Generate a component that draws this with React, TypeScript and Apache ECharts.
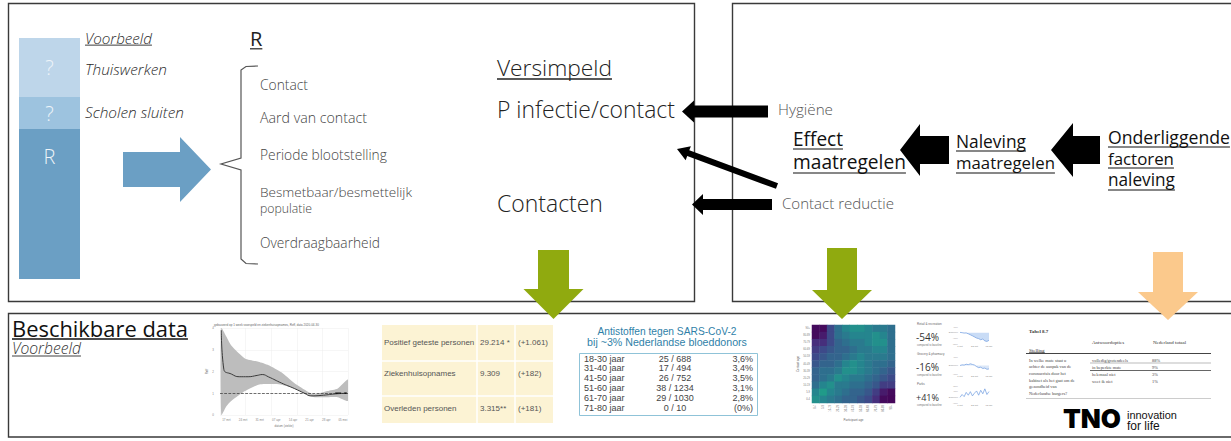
import React, { useEffect, useRef } from 'react';
import * as echarts from 'echarts';

const SANS = '"Open Sans", "Noto Sans", sans-serif';
const ARIAL = '"Liberation Sans", Arial, sans-serif';
const SERIF = '"Liberation Serif", serif';

// ---- stacked R bar (top-left) ----
const rBarLabels = ['R', '?', '?'];
const rBarValues = [150, 32, 59];
const rBarColors = ['#6b9fc4', '#9dc3df', '#bed6ea'];
const rExamples = ['Thuiswerken', 'Scholen sluiten'];
const rFactors = ['Contact', 'Aard van contact', 'Periode blootstelling', 'Besmetbaar/besmettelijk', 'populatie', 'Overdraagbaarheid'];

// ---- Reff thumbnail ----
const reffDates = ['17 mrt', '24 mrt', '31 mrt', '07 apr', '14 apr', '21 apr', '28 apr', '05 mei'];
const reffDateX = [5, 18, 31, 44, 57, 70, 83, 96];
const reffLineX = [1, 3, 9, 15, 22, 29, 33, 38, 48, 58, 66, 71, 79, 90, 99];
const reffLineY = [3.9, 2.1, 1.88, 1.76, 1.76, 1.82, 1.86, 1.75, 1.47, 1.22, 1.0, 0.88, 0.9, 0.97, 1.0];
const reffBandX = [1, 5, 9, 19.5, 30, 38, 48, 58, 69, 74, 84, 92, 100];
const reffBandUpper = [4.0, 3.6, 3.18, 2.6, 2.45, 2.29, 1.96, 1.47, 1.06, 0.95, 1.1, 1.22, 1.63];
const reffBandLower = [0.0, 0.4, 0.65, 1.1, 1.39, 1.42, 1.39, 1.22, 0.9, 0.82, 0.82, 0.82, 0.65];

// ---- RIVM table ----
const rivmRows = ['Positief geteste personen', 'Ziekenhuisopnames', 'Overleden personen'];
const rivmTotals = ['29.214 *', '9.309', '3.315**'];
const rivmDelta = ['(+1.061)', '(+182)', '(+181)'];

// ---- Sanquin donors ----
const donorTitle = ['Antistoffen tegen SARS-CoV-2', 'bij ~3% Nederlandse bloeddonors'];
const donorAges = ['18-30 jaar', '31-40 jaar', '41-50 jaar', '51-60 jaar', '61-70 jaar', '71-80 jaar'];
const donorCounts = ['25 / 688', '17 / 494', '26 / 752', '38 / 1234', '29 / 1030', '0 / 10'];
const donorPct = ['3,6%', '3,4%', '3,5%', '3,1%', '2,8%', '(0%)'];

// ---- contact matrix heatmap ----
const heatAges = ['0-4', '5-9', '10-19', '20-29', '30-39', '40-49', '50-59', '60-69', '70-79', '80-89', '90+'];
const heatRows = [
  [0.3, 0.3, 2.5, 4, 5, 5.5, 5.5, 5, 4.5, 4.5, 4],
  [0.3, 0.8, 2.5, 4, 4.5, 5, 5, 5, 5.5, 5, 4],
  [1.5, 1.5, 2.5, 3.5, 4, 4.5, 4.5, 5, 5.5, 5.5, 4],
  [2, 2.5, 3, 3.5, 3.5, 4, 4.5, 4.5, 5, 5, 4],
  [2.5, 3, 3.5, 3.5, 4, 4.5, 5, 4.5, 4.5, 4.5, 4],
  [3, 3.5, 3.5, 4, 5, 5.5, 5, 4.5, 4, 4, 3.5],
  [3.5, 4, 4, 4.5, 5.5, 5.5, 5, 4.5, 4, 3.5, 3],
  [3.5, 4, 4.5, 5.5, 5, 4.5, 4.5, 4, 3.5, 3, 2.5],
  [4, 5, 5.5, 4.5, 4.5, 4, 4, 3.5, 3, 2, 2],
  [5, 6, 5, 4.5, 4, 3.5, 3.5, 3, 2, 0.8, 0.3],
  [5.5, 5, 4.5, 4, 3.5, 3.5, 3, 2.5, 1.5, 0.3, 0.2],
];
const viridis = ['#440154', '#482878', '#3e4989', '#31688e', '#26828e', '#1f9e89', '#35b779', '#6ece58', '#b5de2b', '#fde725'];

// ---- mobility ----
const mobilityTitles = ['Retail & recreation', 'Grocery & pharmacy', 'Parks'];
const mobilityValues = ['-54%', '-16%', '+41%'];
const mobilityDays = ['1 mrt', '4 mrt', '7 mrt', '10 mrt', '13 mrt', '16 mrt', '19 mrt', '22 mrt', '25 mrt', '28 mrt', '31 mrt', '3 apr', '6 apr', '9 apr', '12 apr'];
const mobilityRetail = [2, 0, -3, -2, -8, -15, -22, -30, -38, -42, -50, -45, -58, -62, -54];
const mobilityGrocery = [0, 3, 2, 6, 4, 8, 5, 2, -5, -10, -8, -14, -12, -18, -16];
const mobilityParks = [0, 20, 5, 35, 15, 40, 10, 30, 45, 15, 50, 25, 60, 20, 41];

// ---- survey table ----
const surveyQuestion = ['In welke mate staat u', 'achter de aanpak van de', 'coronacrisis door het', 'kabinet als het gaat om de', 'gezondheid van', 'Nederlandse burgers?'];
const surveyOptions = ['volledig/grotendeels', 'in beperkte mate', 'helemaal niet', 'weet ik niet'];
const surveyPct = ['88%', '9%', '3%', '1%'];

let ctx: CanvasRenderingContext2D | null = null;
function measureW(text: string, font: string) {
  if (!ctx) ctx = document.createElement('canvas').getContext('2d');
  ctx!.font = font;
  return ctx!.measureText(text).width;
}

type TOpt = {
  w?: number; size?: number; family?: string; weight?: string | number; italic?: boolean;
  fill?: string; underline?: boolean; align?: 'left' | 'center' | 'right'; mid?: boolean; ul?: number;
};

function txt(text: string, x: number, y: number, o: TOpt = {}): any[] {
  const family = o.family ?? SANS;
  const weight = o.weight ?? 'normal';
  const style = o.italic ? 'italic' : 'normal';
  let size = o.size ?? 12;
  if (o.w) {
    const m = measureW(text, `${style} ${weight} 100px ${family}`);
    size = (100 * o.w) / m;
  }
  const width = measureW(text, `${style} ${weight} ${size}px ${family}`);
  const align = o.align ?? 'left';
  const cy = o.mid ? y : y - size * 0.36;
  const fill = o.fill ?? '#222';
  const els: any[] = [{
    type: 'text', x, y: cy, z: 10, silent: true,
    style: { text, fontSize: size, fontFamily: family, fontWeight: weight, fontStyle: style, fill, align, verticalAlign: 'middle' },
  }];
  if (o.underline) {
    const x0 = align === 'center' ? x - width / 2 : align === 'right' ? x - width : x;
    const uy = y + (o.ul ?? size * 0.14);
    els.push({ type: 'line', z: 10, silent: true, shape: { x1: x0, y1: uy, x2: x0 + width, y2: uy }, style: { stroke: fill, lineWidth: Math.max(0.6, size * 0.06) } });
  }
  return els;
}

function hArrow(tipX: number, midY: number, headBaseX: number, headHalf: number, shaftHalf: number, tailX: number, fill: string) {
  return {
    type: 'polygon', z: 6, silent: true,
    shape: { points: [[tailX, midY - shaftHalf], [headBaseX, midY - shaftHalf], [headBaseX, midY - headHalf], [tipX, midY], [headBaseX, midY + headHalf], [headBaseX, midY + shaftHalf], [tailX, midY + shaftHalf]] },
    style: { fill },
  };
}
function vArrow(tipY: number, midX: number, headBaseY: number, headHalf: number, shaftHalf: number, topY: number, fill: string) {
  return {
    type: 'polygon', z: 6, silent: true,
    shape: { points: [[midX - shaftHalf, topY], [midX - shaftHalf, headBaseY], [midX - headHalf, headBaseY], [midX, tipY], [midX + headHalf, headBaseY], [midX + shaftHalf, headBaseY], [midX + shaftHalf, topY]] },
    style: { fill },
  };
}
function segArrow(x1: number, y1: number, x2: number, y2: number, sw: number, hw: number, hl: number, fill: string) {
  const dx = x2 - x1, dy = y2 - y1, L = Math.hypot(dx, dy);
  const ux = dx / L, uy = dy / L, px = -uy, py = ux;
  const bx = x2 - ux * hl, by = y2 - uy * hl;
  const p = (x: number, y: number, k: number) => [x + px * k, y + py * k];
  return {
    type: 'polygon', z: 6, silent: true,
    shape: { points: [p(x1, y1, sw / 2), p(bx, by, sw / 2), p(bx, by, hw / 2), [x2, y2], p(bx, by, -hw / 2), p(bx, by, -sw / 2), p(x1, y1, -sw / 2)] },
    style: { fill },
  };
}

function buildOption() {
  const g: any[] = [];
  const LIGHT = 300;
  // boxes
  const box = (x: number, y: number, w: number, h: number) => ({ type: 'rect', z: 1, silent: true, shape: { x, y, width: w, height: h }, style: { fill: 'none', stroke: '#3a3a3a', lineWidth: 1.4 } });
  g.push(box(8.5, 3.5, 686, 298), box(732.5, 3.5, 520, 298), box(8.5, 313.5, 1240, 123.5));

  // top-left texts
  g.push(...txt('Voorbeeld', 85, 43, { w: 67, italic: true, underline: true, fill: '#2a2a2a', weight: LIGHT }));
  g.push(...txt(rExamples[0], 85, 75, { w: 82, italic: true, fill: '#2a2a2a', weight: LIGHT }));
  g.push(...txt(rExamples[1], 85, 118, { w: 99, italic: true, fill: '#2a2a2a', weight: LIGHT }));
  g.push(...txt('R', 250, 46, { size: 20, underline: true, fill: '#222' }));
  const factorBase = [89, 123, 159, 197, 213, 247];
  const factorW = [48, 107, 127, 152, 52, 120];
  rFactors.forEach((f, i) => g.push(...txt(f, 260, factorBase[i], { w: factorW[i], fill: '#444', weight: LIGHT })));
  // blue arrow
  g.push(hArrow(211, 169.5, 180, 32.5, 17.5, 123, '#6b9fc4'));
  // brace
  g.push({ type: 'polyline', z: 5, silent: true, shape: { points: [[258, 66], [246, 66.5], [241, 70], [241, 158], [221, 164], [241, 170], [241, 259], [246, 263.5], [258, 264]] }, style: { stroke: '#555', lineWidth: 1.2, fill: 'none' } });

  g.push(...txt('Versimpeld', 497, 76, { w: 115, underline: true, fill: '#222', ul: 3, weight: LIGHT }));
  g.push(...txt('P infectie/contact', 497, 117, { w: 178, fill: '#222', weight: LIGHT }));
  g.push(...txt('Contacten', 497, 211, { w: 106, fill: '#222', weight: LIGHT }));

  // black arrows
  g.push(hArrow(682, 111.5, 694, 11, 6, 768, '#000'));
  g.push(hArrow(692, 204.5, 703, 10.5, 5.5, 772, '#000'));
  g.push(segArrow(777, 186, 677, 149, 6, 15, 12, '#000'));
  g.push(hArrow(900, 150, 920, 26, 14, 949, '#000'));
  g.push(hArrow(1051, 150, 1073, 27, 14, 1100, '#000'));

  g.push(...txt('Hygiëne', 778, 114, { w: 55, fill: '#555', weight: LIGHT }));
  g.push(...txt('Contact reductie', 782, 208, { w: 112, fill: '#555', weight: LIGHT }));
  g.push(...txt('Effect', 793, 146, { w: 50, underline: true, fill: '#111', ul: 3 }));
  g.push(...txt('maatregelen', 793, 169, { w: 113, underline: true, fill: '#111', ul: 4 }));
  g.push(...txt('Naleving', 956, 147, { w: 70, underline: true, fill: '#111', ul: 4 }));
  g.push(...txt('maatregelen', 956, 169, { w: 99, underline: true, fill: '#111', ul: 4 }));
  g.push(...txt('Onderliggende', 1108, 143, { w: 122, underline: true, fill: '#111', ul: 4 }));
  g.push(...txt('factoren', 1108, 165, { w: 66, underline: true, fill: '#111', ul: 3 }));
  g.push(...txt('naleving', 1108, 186, { w: 67, underline: true, fill: '#111', ul: 4 }));

  // colored down arrows
  g.push(vArrow(319, 553.5, 289, 30, 15.5, 250, '#90aa0f'));
  g.push(vArrow(319, 842, 290, 30, 15, 248, '#90aa0f'));
  g.push(vArrow(320, 1168, 292, 30, 15, 252, '#fbc98c'));

  // bottom section
  g.push(...txt('Beschikbare data', 12, 336, { w: 176, underline: true, fill: '#111', ul: 3 }));
  g.push(...txt('Voorbeeld', 12, 354, { w: 69, italic: true, underline: true, fill: '#333', ul: 2, weight: LIGHT }));

  // reff thumbnail extras
  g.push(...txt('gebaseerd op 1 week voorspeld en ziekenhuisopnames, Reff, data 2020-04-30', 214, 324.5, { size: 3, family: ARIAL, fill: '#666', mid: true }));

  // RIVM yellow table
  g.push({ type: 'rect', z: 2, silent: true, shape: { x: 382, y: 325, width: 171, height: 98 }, style: { fill: '#fcf3d4' } });
  [477, 515].forEach((x) => g.push({ type: 'line', z: 3, silent: true, shape: { x1: x, y1: 325, x2: x, y2: 423 }, style: { stroke: '#fff', lineWidth: 1.5 } }));
  [361, 396].forEach((y) => g.push({ type: 'line', z: 3, silent: true, shape: { x1: 382, y1: y, x2: 553, y2: y }, style: { stroke: '#fff', lineWidth: 1.5 } }));
  const rivmY = [342, 373, 408];
  rivmRows.forEach((r, i) => {
    g.push(...txt(r, 384, rivmY[i], { size: 8, family: ARIAL, fill: '#555', mid: true }));
    g.push(...txt(rivmTotals[i], 480, rivmY[i], { size: 8, family: ARIAL, fill: '#555', mid: true }));
    g.push(...txt(rivmDelta[i], 518, rivmY[i], { size: 8, family: ARIAL, fill: '#555', mid: true }));
  });

  // donors
  g.push(...txt(donorTitle[0], 667, 331, { w: 139, family: ARIAL, fill: '#2f7fa8', align: 'center', mid: true }));
  g.push(...txt(donorTitle[1], 667, 342, { w: 160, family: ARIAL, fill: '#2f7fa8', align: 'center', mid: true }));
  g.push({ type: 'rect', z: 2, silent: true, shape: { x: 579.5, y: 353.5, width: 178, height: 62 }, style: { fill: '#fff', stroke: '#8fc3d8', lineWidth: 1 } });
  donorAges.forEach((a, i) => {
    const y = 358.5 + i * 9.9;
    g.push(...txt(a, 584, y, { size: 9, family: ARIAL, fill: '#444', mid: true }));
    g.push(...txt(donorCounts[i], 675, y, { size: 9, family: ARIAL, fill: '#444', mid: true, align: 'center' }));
    g.push(...txt(donorPct[i], 753, y, { size: 9, family: ARIAL, fill: '#444', mid: true, align: 'right' }));
  });

  // mobility texts
  const mobY = [337, 367, 397];
  mobilityTitles.forEach((t, i) => {
    g.push(...txt(t, 917, mobY[i] - 13, { size: 3, family: ARIAL, fill: '#666', mid: true }));
    g.push(...txt(mobilityValues[i], 916, mobY[i], { w: 23, fill: '#333', mid: true }));
    g.push(...txt('compared to baseline', 917, mobY[i] + 8, { size: 2.6, family: ARIAL, fill: '#777', mid: true }));
  });

  // survey table
  g.push(...txt('Tabel 8.7', 1029, 331, { size: 5, family: SERIF, weight: 'bold', fill: '#333', mid: true }));
  g.push(...txt('Antwoordopties', 1092, 342, { size: 5, family: SERIF, fill: '#333', mid: true }));
  g.push(...txt('Nederland totaal', 1153, 342, { size: 5, family: SERIF, fill: '#333', mid: true }));
  g.push(...txt('Stelling', 1029, 350, { size: 5, family: SERIF, fill: '#333', mid: true, underline: true, ul: 2.5 }));
  g.push({ type: 'line', z: 3, silent: true, shape: { x1: 1026, y1: 353.5, x2: 1211, y2: 353.5 }, style: { stroke: '#444', lineWidth: 1.2 } });
  surveyQuestion.forEach((q, i) => g.push(...txt(q, 1029, 360 + i * 6.7, { size: 4.4, family: SERIF, fill: '#444', mid: true })));
  const optY = [360, 367, 374.5, 381];
  surveyOptions.forEach((o, i) => {
    g.push(...txt(o, 1092, optY[i], { size: 4.4, family: SERIF, fill: '#444', mid: true }));
    g.push(...txt(surveyPct[i], 1152, optY[i], { size: 4.4, family: SERIF, fill: '#444', mid: true }));
  });
  g.push({ type: 'line', z: 3, silent: true, shape: { x1: 1090, y1: 363, x2: 1211, y2: 363 }, style: { stroke: '#777', lineWidth: 0.5 } });
  g.push({ type: 'line', z: 3, silent: true, shape: { x1: 1090, y1: 370.5, x2: 1211, y2: 370.5 }, style: { stroke: '#555', lineWidth: 0.9 } });
  g.push({ type: 'line', z: 3, silent: true, shape: { x1: 1026, y1: 398.5, x2: 1211, y2: 398.5 }, style: { stroke: '#aaa', lineWidth: 0.6 } });

  // TNO logo
  g.push(...txt('TNO', 1063, 427.5, { w: 58, family: '"Inter", "DejaVu Sans", sans-serif', weight: 900, fill: '#000' }));
  g.push(...txt('innovation', 1127, 415, { w: 50, family: ARIAL, fill: '#111', mid: true }));
  g.push(...txt('for life', 1127, 425.5, { size: 12, family: ARIAL, fill: '#111', mid: true }));

  const tiny = { fontSize: 3, color: '#888' };
  const miniGrid = (gi: number) => ({
    x: { gridIndex: gi, type: 'category', data: mobilityDays, boundaryGap: false, axisLine: { show: false }, axisTick: { show: false }, axisLabel: { ...tiny, fontSize: 2.4, interval: 6, margin: 1.5 } },
    y: { gridIndex: gi, type: 'value', axisLine: { show: false }, axisTick: { show: false }, splitLine: { show: false }, axisLabel: { fontSize: 2.4, color: '#999', margin: 2, formatter: (v: number) => (v === 0 ? 'Baseline' : v + '%') } },
  });
  const m1 = miniGrid(3), m2 = miniGrid(4), m3 = miniGrid(5);
  (m1.y as any).min = -80; (m1.y as any).max = 40; (m1.y as any).interval = 40;
  (m2.y as any).min = -40; (m2.y as any).max = 40; (m2.y as any).interval = 40;
  (m3.y as any).min = -40; (m3.y as any).max = 80; (m3.y as any).interval = 40;

  const heatData: number[][] = [];
  heatRows.forEach((row, r) => row.forEach((v, c) => heatData.push([c, r, v])));

  return {
    animation: false,
    backgroundColor: '#fff',
    grid: [
      { left: 19, top: 38, width: 61, height: 241 },
      { left: 220, top: 328, width: 128, height: 87 },
      { left: 812, top: 325, width: 83, height: 78 },
      { left: 960, top: 327, width: 29, height: 17 },
      { left: 960, top: 357, width: 29, height: 17 },
      { left: 960, top: 386, width: 29, height: 17 },
    ],
    xAxis: [
      { gridIndex: 0, type: 'category', data: ['R'], show: false },
      {
        gridIndex: 1, type: 'value', min: 0, max: 100, axisLine: { show: false }, axisTick: { show: false },
        splitLine: { show: true, lineStyle: { color: '#ececec', width: 0.5 } },
        axisLabel: { customValues: reffDateX, formatter: (v: number) => reffDates[reffDateX.indexOf(v)] ?? '', ...tiny, margin: 3 },
        name: 'datum (ziekte)', nameLocation: 'middle', nameGap: 9, nameTextStyle: { fontSize: 3, color: '#777' },
      },
      {
        gridIndex: 2, type: 'category', data: heatAges, axisLine: { show: false },
        axisTick: { length: 1.5, lineStyle: { color: '#999', width: 0.4 } },
        axisLabel: { rotate: 90, fontSize: 2.6, color: '#777', interval: 0, margin: 2 },
        name: 'Participant age', nameLocation: 'middle', nameGap: 15, nameTextStyle: { fontSize: 3, color: '#666' },
      },
      m1.x, m2.x, m3.x,
    ],
    yAxis: [
      { gridIndex: 0, type: 'value', min: 0, max: 241, show: false },
      {
        gridIndex: 1, type: 'value', min: 0, max: 4, interval: 1, axisLine: { show: false }, axisTick: { show: false },
        splitLine: { show: true, lineStyle: { color: '#ececec', width: 0.5 } }, axisLabel: { ...tiny, margin: 6 },
        name: 'Reff', nameLocation: 'middle', nameGap: 10, nameRotate: 90, nameTextStyle: { fontSize: 3, color: '#666' },
      },
      {
        gridIndex: 2, type: 'category', data: heatAges.slice().reverse(), inverse: true, axisLine: { show: false },
        axisTick: { length: 1.5, lineStyle: { color: '#999', width: 0.4 } },
        axisLabel: { fontSize: 2.6, color: '#777', interval: 0, margin: 2 },
        name: 'Contact age', nameLocation: 'middle', nameGap: 12, nameRotate: 90, nameTextStyle: { fontSize: 3, color: '#666' },
      },
      m1.y, m2.y, m3.y,
    ],
    visualMap: { show: false, type: 'continuous', min: 0, max: 11, seriesIndex: 6, inRange: { color: viridis } },
    series: [
      ...rBarLabels.map((lab, i) => ({
        type: 'bar', xAxisIndex: 0, yAxisIndex: 0, stack: 'r', barWidth: '100%', data: [rBarValues[i]],
        itemStyle: { color: rBarColors[i] },
        label: {
          show: true, formatter: lab, position: i === 0 ? 'insideTop' : 'inside', distance: 17,
          color: '#eef4f9', fontSize: 20, fontFamily: SANS, fontWeight: 300,
        },
        silent: true,
      })),
      {
        type: 'custom', xAxisIndex: 1, yAxisIndex: 1, silent: true, clip: true, data: [0],
        renderItem: (_p: any, api: any) => {
          const up = reffBandX.map((x, i) => api.coord([x, reffBandUpper[i]]));
          const lo = reffBandX.map((x, i) => api.coord([x, reffBandLower[i]])).reverse();
          return { type: 'polygon', shape: { points: up.concat(lo), smooth: 0.2 }, style: { fill: '#bdbdbd' } };
        },
      },
      {
        type: 'line', xAxisIndex: 1, yAxisIndex: 1, symbol: 'none', smooth: true,
        data: reffLineX.map((x, i) => [x, reffLineY[i]]), lineStyle: { color: '#3a3a3a', width: 1 }, silent: true,
        markLine: { silent: true, symbol: 'none', label: { show: false }, lineStyle: { color: '#333', type: 'dashed', width: 0.7 }, data: [{ yAxis: 1 }] },
      },
      {
        type: 'line', xAxisIndex: 1, yAxisIndex: 1, symbol: 'none', data: [[90, 1], [99, 1]],
        lineStyle: { color: '#111', type: 'dashed', width: 1.5 }, silent: true,
      },
      {
        type: 'heatmap', xAxisIndex: 2, yAxisIndex: 2, data: heatData, silent: true,
      },
      {
        type: 'line', xAxisIndex: 3, yAxisIndex: 3, symbol: 'none', data: mobilityRetail,
        lineStyle: { color: '#6d9be0', width: 0.7 }, areaStyle: { color: '#c9dcf6', opacity: 1 }, silent: true,
      },
      {
        type: 'line', xAxisIndex: 4, yAxisIndex: 4, symbol: 'none', data: mobilityGrocery,
        lineStyle: { color: '#6d9be0', width: 0.7 }, areaStyle: { color: '#dbe7f8', opacity: 1 }, silent: true,
      },
      {
        type: 'line', xAxisIndex: 5, yAxisIndex: 5, symbol: 'none', data: mobilityParks,
        lineStyle: { color: '#6d9be0', width: 0.7 }, silent: true,
      },
    ],
    graphic: { elements: g },
  };
}

export default function App() {
  const ref = useRef<HTMLDivElement>(null);
  useEffect(() => {
    document.body.style.margin = '0';
    const chart = echarts.init(ref.current!, null, { renderer: 'svg' });
    chart.setOption(buildOption() as any);
    return () => chart.dispose();
  }, []);
  return <div ref={ref} style={{ position: 'absolute', left: 0, top: 0, width: 1231, height: 441, background: '#fff' }} />;
}
